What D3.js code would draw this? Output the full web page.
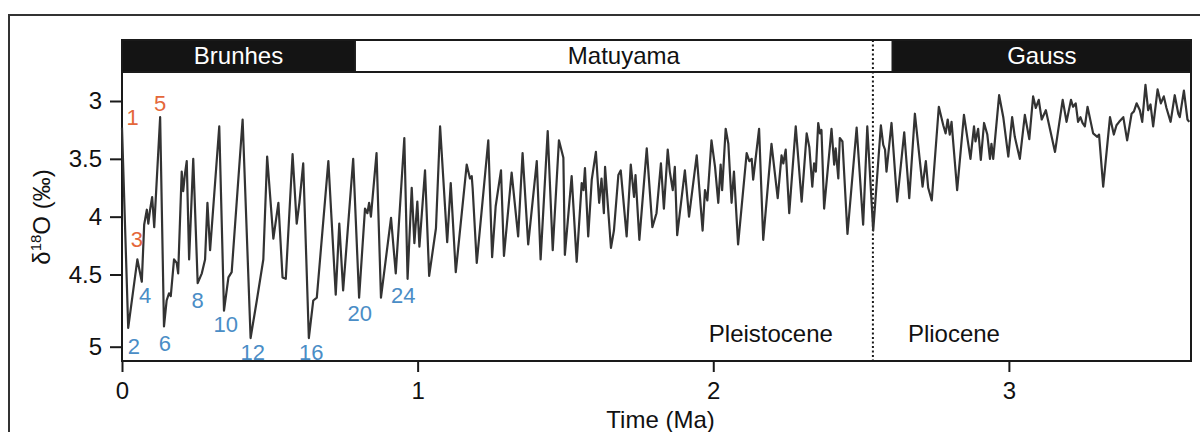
<!DOCTYPE html>
<html>
<head>
<meta charset="utf-8">
<script src="https://cdn.jsdelivr.net/npm/d3@7"></script>
<style>
  html, body { margin: 0; padding: 0; background: #fff; }
  svg text { font-family: "Liberation Sans", Arial, Helvetica, sans-serif; }
</style>
</head>
<body>
<div id="chart"></div>
<script>
/* benthic d18O stack, 0-3.6 Ma */
var ageMa = [
  0.000, 0.021, 0.052, 0.067, 0.075, 0.084, 0.089, 0.095, 0.102, 0.109,
  0.129, 0.142, 0.151, 0.159, 0.165, 0.176, 0.185, 0.190, 0.202, 0.207,
  0.213, 0.219, 0.227, 0.241, 0.256, 0.270, 0.281, 0.289, 0.298, 0.329,
  0.345, 0.360, 0.371, 0.408, 0.435, 0.456, 0.478, 0.491, 0.512, 0.529,
  0.543, 0.554, 0.577, 0.591, 0.600, 0.613, 0.632, 0.647, 0.659, 0.698,
  0.723, 0.735, 0.748,
  0.782, 0.802, 0.822, 0.830, 0.836, 0.842, 0.861, 0.876, 0.910, 0.926,
  0.955, 0.966, 0.980, 0.989, 0.999, 1.006, 1.025, 1.039, 1.062, 1.076,
  1.100, 1.112, 1.129, 1.166, 1.177, 1.183, 1.186, 1.200, 1.239, 1.252,
  1.264, 1.282, 1.292, 1.318, 1.340, 1.355, 1.374, 1.403, 1.416, 1.440,
  1.457, 1.478, 1.493, 1.498, 1.521, 1.538, 1.555, 1.561, 1.566, 1.577,
  1.589, 1.603, 1.614,
  1.622, 1.630, 1.634, 1.654, 1.664, 1.679, 1.687, 1.707, 1.721, 1.732,
  1.737, 1.750, 1.775, 1.794, 1.808, 1.823, 1.833, 1.846, 1.853, 1.863,
  1.870, 1.878, 1.904, 1.918, 1.944, 1.964, 1.972, 1.980, 1.994, 2.006,
  2.017, 2.025, 2.030, 2.042, 2.051, 2.062, 2.070, 2.084, 2.113, 2.122,
  2.130, 2.135, 2.155, 2.169, 2.197, 2.218, 2.231, 2.237, 2.245, 2.257,
  2.279, 2.299, 2.316, 2.325, 2.335, 2.341, 2.347, 2.355, 2.361, 2.366,
  2.375, 2.400, 2.409, 2.414, 2.423, 2.428, 2.437, 2.454, 2.485, 2.507,
  2.521, 2.541, 2.567, 2.575, 2.581, 2.586, 2.603, 2.622, 2.646, 2.663,
  2.682, 2.708, 2.719, 2.727, 2.739, 2.763, 2.778, 2.786, 2.793, 2.800,
  2.806, 2.825,
  2.848, 2.870, 2.882, 2.887, 2.896, 2.905, 2.916, 2.927, 2.936, 2.941,
  2.947, 2.967, 2.981, 2.998, 3.011, 3.020, 3.037, 3.054, 3.069, 3.082,
  3.091, 3.101, 3.111, 3.125, 3.156, 3.182, 3.195, 3.210, 3.217, 3.226,
  3.234, 3.242, 3.249, 3.257, 3.266, 3.285, 3.299, 3.305, 3.319, 3.342,
  3.355, 3.364, 3.373, 3.387, 3.400, 3.415, 3.423, 3.432, 3.443, 3.451,
  3.462, 3.471, 3.479, 3.488, 3.503, 3.514, 3.524, 3.533, 3.547, 3.561,
  3.573, 3.578, 3.592, 3.604, 3.610
];

var d18O = [
  3.23, 4.87, 4.37, 4.55, 4.07, 3.94, 4.06, 3.94, 3.83, 4.09,
  3.14, 4.86, 4.68, 4.63, 4.65, 4.37, 4.40, 4.49, 3.61, 3.78,
  3.63, 3.52, 4.37, 3.50, 4.56, 4.49, 4.37, 3.88, 4.29, 3.22,
  4.75, 4.52, 4.48, 3.16, 4.94, 4.68, 4.37, 3.48, 4.19, 3.88,
  4.52, 4.53, 3.46, 4.06, 3.88, 3.54, 4.94, 4.68, 4.66, 3.52,
  4.64, 4.06, 4.61,
  3.50, 4.66, 3.93, 3.97, 3.88, 4.00, 3.45, 4.66, 4.01, 4.49,
  3.32, 4.53, 3.75, 4.23, 3.87, 4.26, 3.60, 4.51, 4.10, 3.22,
  4.22, 3.71, 4.48, 3.55, 3.67, 3.65, 3.75, 4.40, 3.34, 4.35,
  3.91, 3.60, 4.34, 3.62, 4.17, 3.45, 4.24, 3.52, 4.37, 3.26,
  4.29, 3.34, 3.49, 4.33, 3.65, 4.39, 3.71, 3.77, 3.58, 4.17,
  3.68, 3.44, 3.88,
  3.67, 3.97, 3.57, 4.27, 4.12, 3.64, 3.60, 4.17, 3.55, 3.83,
  3.64, 4.20, 3.41, 4.09, 3.97, 3.54, 3.93, 3.42, 3.61, 3.77,
  3.57, 4.16, 3.60, 4.00, 3.47, 4.12, 3.77, 3.86, 3.34, 3.57,
  3.88, 3.55, 3.77, 3.24, 3.37, 3.88, 3.61, 4.24, 3.45, 3.52,
  3.50, 3.68, 3.24, 4.20, 3.37, 3.84, 3.47, 3.54, 3.42, 3.97,
  3.22, 3.87, 3.28, 3.40, 3.74, 3.54, 3.61, 3.19, 3.28, 3.25,
  3.93, 3.24, 3.55, 3.41, 3.67, 3.32, 3.35, 4.15, 3.23, 4.07,
  3.22, 4.12, 3.21, 3.38, 3.42, 3.61, 3.19, 3.87, 3.27, 3.84,
  3.11, 3.74, 3.52, 3.75, 3.86, 3.05, 3.21, 3.28, 3.16, 3.29,
  3.18, 3.77,
  3.12, 3.50, 3.22, 3.35, 3.24, 3.51, 3.19, 3.29, 3.50, 3.37,
  3.50, 2.95, 3.14, 3.48, 3.14, 3.31, 3.50, 3.12, 3.33, 2.96,
  3.06, 2.99, 3.16, 3.08, 3.44, 2.99, 3.18, 2.99, 3.05, 3.02,
  3.18, 3.14, 3.19, 3.22, 3.05, 3.28, 3.31, 3.29, 3.74, 3.14,
  3.29, 3.21, 3.18, 3.14, 3.34, 3.11, 3.09, 3.02, 3.08, 3.18,
  2.86, 3.08, 3.03, 3.22, 2.90, 3.02, 2.96, 3.06, 3.18, 2.95,
  3.11, 3.14, 2.91, 3.16, 3.18
];

// magnetic polarity chrons
var chronNames = ["Brunhes", "Matuyama", "Gauss"];
var chronStart = [0, 0.788, 2.607];
var chronEnd = [0.788, 2.607, 3.616];
var chronNormal = [true, false, true];

// marine isotope stages (label anchor in data units)
var misStage = ["1", "5", "3", "2", "4", "6", "8", "10", "12", "16", "20", "24"];
var misAge = [0.036, 0.129, 0.050, 0.040, 0.078, 0.145, 0.256, 0.351, 0.442, 0.640, 0.804, 0.951];
var misVal = [3.21, 3.09, 4.26, 5.05, 4.70, 5.03, 4.73, 4.90, 5.09, 5.09, 4.82, 4.70];
var misWarm = [true, true, true, false, false, false, false, false, false, false, false, false];

var epochBoundary = 2.54;
var yTicks = [3, 3.5, 4, 4.5, 5];
var xTicks = [0, 1, 2, 3];

(function drawChart (d3) {
    "use strict";
    var W = 1200, H = 432,
        left = 122, right = 1191, top = 72, bottom = 361,
        barTop = 40,
        ink = "#1a1a1a",
        warmColor = "#e4673a",
        coldColor = "#4a8dc6";

    var x = d3.scaleLinear().domain([0, 3.616]).range([left, right]);
    // the figure's y axis is not evenly spaced below 4.5, keep it that way
    var y = d3.scaleLinear().domain([3, 4.5, 5]).range([101, 274.5, 346.7]);

    var svg = d3.select("#chart").append("svg")
        .attr("width", W)
        .attr("height", H)
        .style("display", "block")
        .style("background", "#fff");

    // outer panel frame
    svg.append("rect")
        .attr("x", 9).attr("y", 15)
        .attr("width", 1400).attr("height", 600)
        .attr("fill", "none")
        .attr("stroke", "#333")
        .attr("stroke-width", 2);

    // polarity bar
    var chrons = chronNames.map(function (n, i) {
        return { name: n, a: chronStart[i], b: chronEnd[i], normal: chronNormal[i] };
    });
    var bar = svg.append("g").attr("class", "chrons");
    bar.selectAll("rect").data(chrons).enter().append("rect")
        .attr("x", function (d) { return x(d.a); })
        .attr("y", barTop)
        .attr("width", function (d) { return x(d.b) - x(d.a); })
        .attr("height", top - barTop)
        .attr("fill", function (d) { return d.normal ? "#141414" : "#fff"; })
        .attr("stroke", ink)
        .attr("stroke-width", 2);
    bar.selectAll("text").data(chrons).enter().append("text")
        .attr("x", function (d) { return (x(d.a) + x(d.b)) / 2; })
        .attr("y", 64)
        .attr("text-anchor", "middle")
        .attr("font-size", 24)
        .attr("fill", function (d) { return d.normal ? "#fff" : "#111"; })
        .text(function (d) { return d.name; });

    // plot frame
    svg.append("rect")
        .attr("x", left).attr("y", top)
        .attr("width", right - left).attr("height", bottom - top)
        .attr("fill", "none")
        .attr("stroke", ink)
        .attr("stroke-width", 2);

    // Pleistocene / Pliocene boundary
    svg.append("line")
        .attr("x1", x(epochBoundary)).attr("x2", x(epochBoundary))
        .attr("y1", barTop).attr("y2", bottom)
        .attr("stroke", ink)
        .attr("stroke-width", 2)
        .attr("stroke-dasharray", "2,2.5");

    svg.append("text")
        .attr("x", x(epochBoundary) - 40).attr("y", 342)
        .attr("text-anchor", "end")
        .attr("font-size", 24)
        .attr("fill", "#111")
        .text("Pleistocene");
    svg.append("text")
        .attr("x", x(epochBoundary) + 35).attr("y", 342)
        .attr("font-size", 24)
        .attr("fill", "#111")
        .text("Pliocene");

    // the isotope curve
    var pts = d3.range(Math.min(ageMa.length, d18O.length)).map(function (i) {
        return [ageMa[i], d18O[i]];
    });
    var line = d3.line()
        .x(function (d) { return x(d[0]); })
        .y(function (d) { return y(d[1]); });
    svg.append("path")
        .datum(pts)
        .attr("d", line)
        .attr("fill", "none")
        .attr("stroke", "#333")
        .attr("stroke-width", 2.2)
        .attr("stroke-linejoin", "round");

    // MIS labels
    svg.append("g").selectAll("text")
        .data(misStage)
        .enter().append("text")
        .attr("x", function (d, i) { return x(misAge[i]); })
        .attr("y", function (d, i) { return y(misVal[i]); })
        .attr("text-anchor", "middle")
        .attr("font-size", 22)
        .attr("fill", function (d, i) { return misWarm[i] ? warmColor : coldColor; })
        .text(function (d) { return d; });

    // axes
    var yAxis = svg.append("g")
        .attr("transform", "translate(" + left + ",0)")
        .call(d3.axisLeft(y).tickValues(yTicks).tickSize(12).tickPadding(8)
            .tickFormat(d3.format("")));
    var xAxis = svg.append("g")
        .attr("transform", "translate(0," + bottom + ")")
        .call(d3.axisBottom(x).tickValues(xTicks).tickSize(11).tickPadding(10)
            .tickFormat(d3.format("d")));

    [yAxis, xAxis].forEach(function (g) {
        g.select(".domain").remove();
        g.selectAll(".tick line").attr("stroke", ink).attr("stroke-width", 2);
        g.selectAll(".tick text")
            .attr("fill", "#111")
            .style("font-size", "24px")
            .style("font-family", "'Liberation Sans', Arial, sans-serif");
    });

    svg.append("text")
        .attr("x", (x(0) + x(3.616)) / 2 + 4)
        .attr("y", 428)
        .attr("text-anchor", "middle")
        .attr("font-size", 24)
        .attr("fill", "#111")
        .text("Time (Ma)");

    var yt = svg.append("text")
        .attr("transform", "translate(50,217)rotate(-90)")
        .attr("text-anchor", "middle")
        .attr("font-size", 24)
        .attr("fill", "#111");
    yt.append("tspan").text("\u03B4");
    yt.append("tspan").attr("dy", -9).attr("font-size", 15).text("18");
    yt.append("tspan").attr("dy", 9).text("O (\u2030)");
})(window.d3);
</script>
</body>
</html>
